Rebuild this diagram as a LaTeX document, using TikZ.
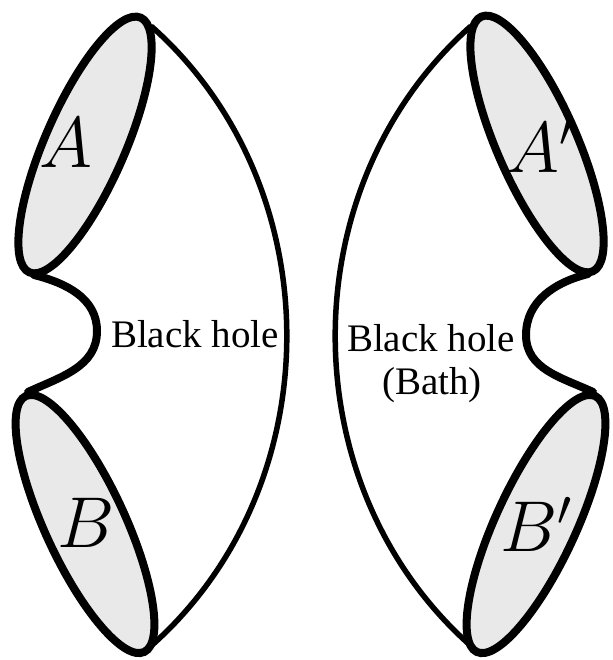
\RequirePackage{fix-cm}
\documentclass[tikz,border=0pt]{standalone}
\usepackage{fontspec}
\setmainfont{Liberation Serif}
\newfontfamily\bhfont{Liberation Serif}
\definecolor{regionfill}{RGB}{233,233,233}
\begin{document}
\begin{tikzpicture}[x=1pt,y=1pt,
  region/.style={fill=regionfill, draw=black, line width=8pt},
  neck/.style={draw=black, line width=8pt, line cap=round},
  horizon/.style={draw=black, line width=5.5pt},
  lab/.style={inner sep=0pt, font=\fontsize{72}{80}\selectfont},
  txt/.style={inner sep=0pt, anchor=base, font={\bhfont\fontsize{39}{43}\selectfont}}]
\useasboundingbox (0,0) rectangle (612,660);
% centres of the four regions
\coordinate (cA)  at (85,515);
\coordinate (cB)  at (85,136);
\coordinate (cAp) at (537,516);
\coordinate (cBp) at (536,136);
% ends of the horizon curves
\coordinate (lt) at (151,634);
\coordinate (lb) at (151,14);
\coordinate (rt) at (471,634);
\coordinate (rb) at (471,14);
% neck points
\coordinate (ln1) at (34,385);
\coordinate (lnm) at (97,329);
\coordinate (ln2) at (28,268);
\coordinate (rn1) at (588,386);
\coordinate (rnm) at (526,325);
\coordinate (rn2) at (593,268);
% horizons
\draw[horizon] (lt) to[out=-41.5, in=41.5] (lb);
\draw[horizon] (rt) to[out=-138.5, in=138.5] (rb);
% necks
\draw[neck] (ln1) to[out=-14, in=90] (lnm) to[out=-90, in=25] (ln2);
\draw[neck] (rn1) to[out=194, in=90] (rnm) to[out=-90, in=155] (rn2);
% regions
\draw[region, rotate around={66.4:(cA)}] (cA) ellipse [x radius=139pt, y radius=40pt];
\draw[region, rotate around={114.8:(cB)}] (cB) ellipse [x radius=141pt, y radius=40pt];
\draw[region, rotate around={113.6:(cAp)}] (cAp) ellipse [x radius=139pt, y radius=40pt];
\draw[region, rotate around={65.2:(cBp)}] (cBp) ellipse [x radius=141pt, y radius=40pt];
% labels
\node[lab, anchor=base west] (labA) at (39,492) {$A$};
\node[lab, anchor=base west] (labB) at (57,112) {$B$};
\node[lab, anchor=base west] (labAp) at (506,487) {$A'$};
\node[lab, anchor=base west] (labBp) at (500,108) {$B'$};
\node[txt] (bh1) at (195,312) {Black hole};
\node[txt] (bh2) at (431,308) {Black hole};
\node[txt] (bath) at (432,265) {(Bath)};
\end{tikzpicture}
\end{document}
